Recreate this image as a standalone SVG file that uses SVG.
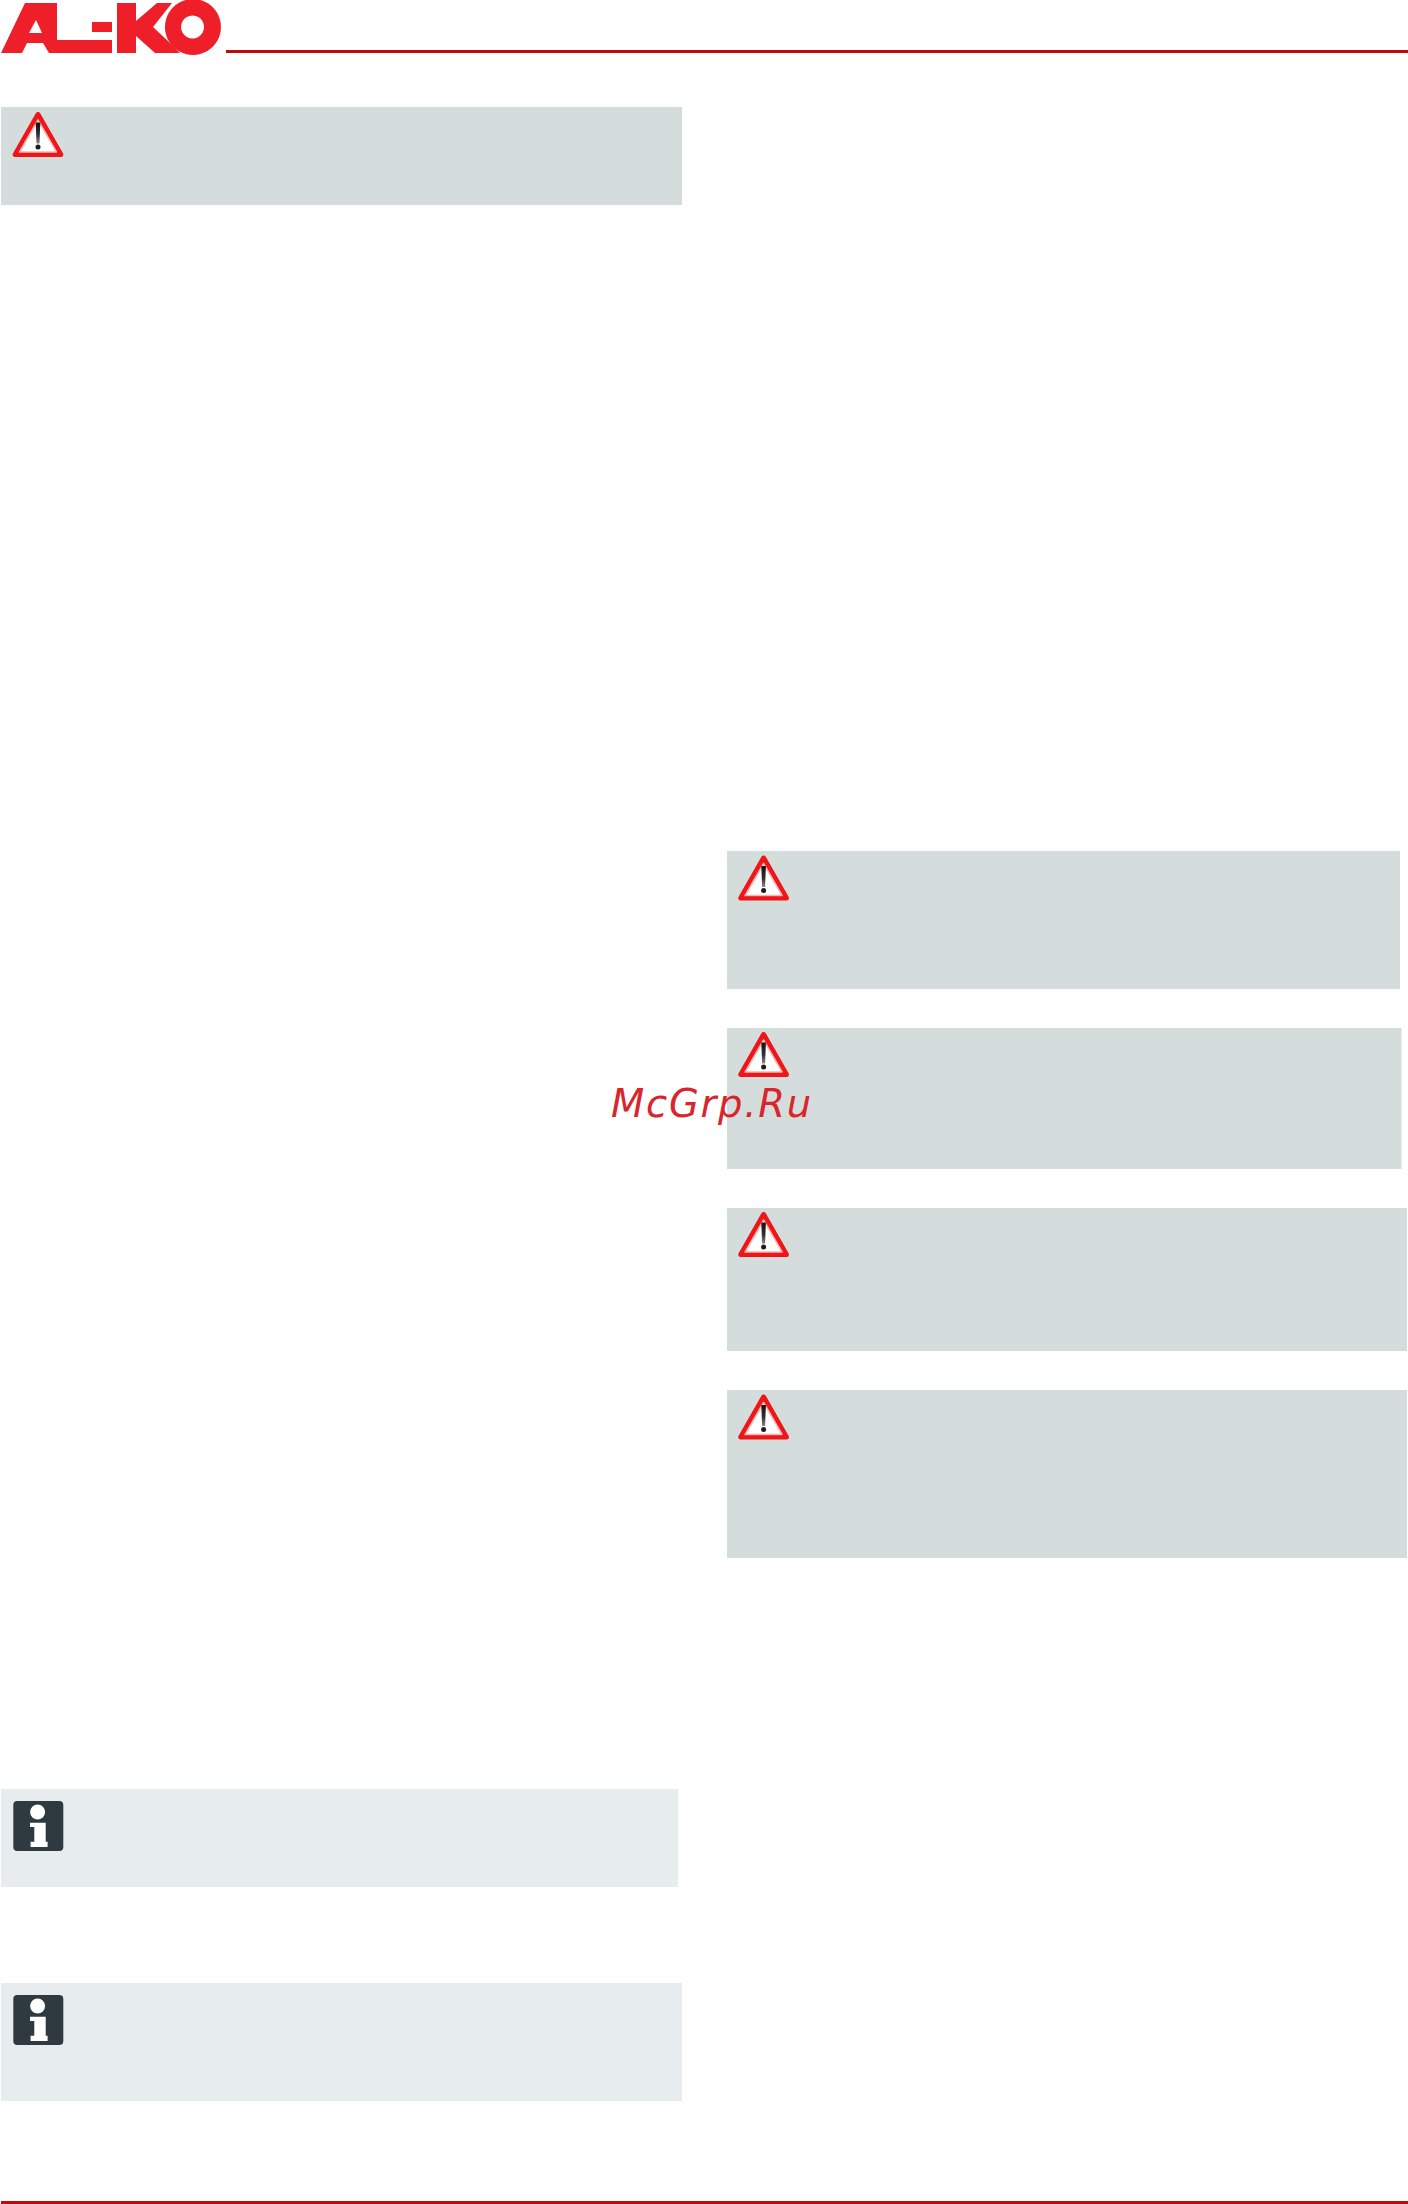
<svg xmlns="http://www.w3.org/2000/svg" width="1408" height="2204" viewBox="0 0 1408 2204">
<style>
.w{fill:#d5dddc}.n{fill:#e7ecef}.rule{fill:#c10a0a}.logo{fill:#ee1f29}
.wm{font-family:"DejaVu Sans",sans-serif;font-style:italic;font-size:38.5px;letter-spacing:1.75px;fill:#d9252b}
</style>
<defs>
<filter id="soft" x="-10%" y="-10%" width="120%" height="120%"><feGaussianBlur stdDeviation="0.7"/></filter>
<linearGradient id="bang" x1="0" y1="0" x2="0" y2="1"><stop offset="0" stop-color="#111"/><stop offset="0.6" stop-color="#333"/><stop offset="1" stop-color="#888"/></linearGradient>
<g id="warn" filter="url(#soft)">
<path d="M0 0L-22.800 40H22.800Z" fill="#fff" stroke="#ee1218" stroke-width="5" stroke-linejoin="round"/>
<path d="M0 5.500L-18.500 37.500H18.500Z" fill="none" stroke="#f7b4b4" stroke-width="1.500" stroke-linejoin="round"/>
<path d="M-2.300 8H2.300L1.500 29H-1.500Z" fill="url(#bang)"/>
<circle cx="0" cy="32.500" r="2.500" fill="#1c1c1c"/>
</g>
<g id="info">
<rect width="50" height="50" rx="4" fill="#2e3a40"/>
<circle cx="24.300" cy="11" r="7.500" fill="#fff"/>
<path d="M16.700 21.700H32.400V40.700H34.300V46H17.300V40.700H21V26H16.700Z" fill="#fff"/>
</g>
</defs>
<rect width="1408" height="2204" fill="#fff"/>
<g id="logo" class="logo">
<path fill-rule="evenodd" d="M1 53L25 3H57V40H112V53H49L43 43H27L22 53ZM29 33H42L36 20Z"/>
<rect x="92" y="22" width="20" height="10"/>
<path d="M117 3H136V21L157 3H172L153 27L170 43L180 53H155L136 36V53H117Z"/>
<path fill-rule="evenodd" d="M193 -1A28 28 0 1 1 192.900 -1ZM192.500 15.500A11.500 11.500 0 1 0 192.600 15.500Z"/>
</g>
<rect id="header-rule" class="rule" x="226" y="50" width="1182" height="3"/>
<rect id="footer-rule" class="rule" x="1" y="2201" width="1407" height="3"/>
<g id="warning-1"><rect class="w" x="1" y="107" width="681" height="98"/><use href="#warn" x="38" y="114.500"/></g>
<g id="warning-2"><rect class="w" x="727" y="851" width="673" height="138"/><use href="#warn" x="763.600" y="858"/></g>
<g id="warning-3"><rect class="w" x="727" y="1028" width="674.500" height="141"/><use href="#warn" x="763.600" y="1034.500"/></g>
<g id="warning-4"><rect class="w" x="727" y="1208" width="680" height="143"/><use href="#warn" x="763.600" y="1214.500"/></g>
<g id="warning-5"><rect class="w" x="727" y="1390" width="680" height="168"/><use href="#warn" x="763.600" y="1397"/></g>
<g id="info-1"><rect class="n" x="1" y="1789" width="677" height="98"/><use href="#info" x="13.300" y="1801"/></g>
<g id="info-2"><rect class="n" x="1" y="1983" width="681" height="118"/><use href="#info" x="13.300" y="1995"/></g>
<text class="wm" x="611" y="1117">McGrp.Ru</text>
</svg>
